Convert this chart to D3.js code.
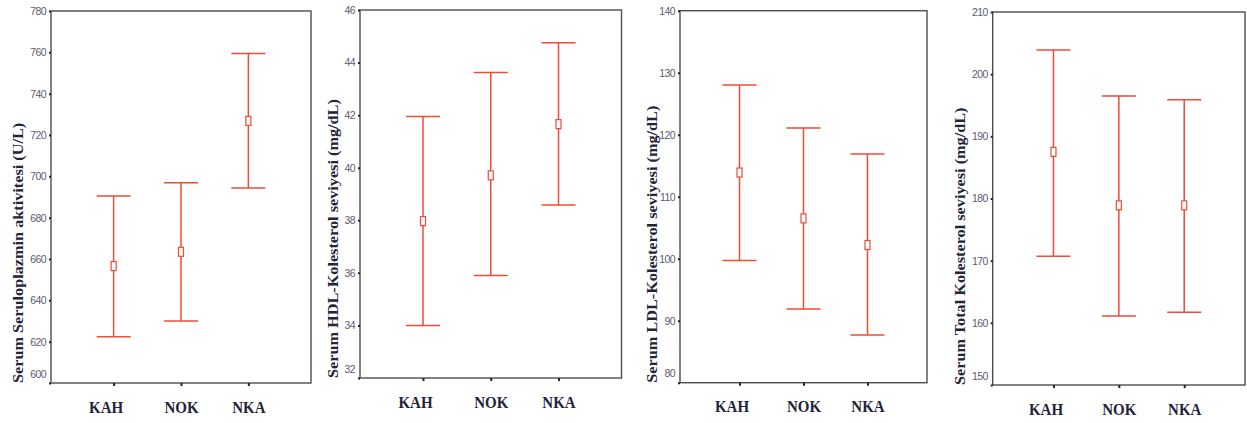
<!DOCTYPE html>
<html>
<head>
<meta charset="utf-8">
<script src="https://cdn.jsdelivr.net/npm/d3@7"></script>
<style>
  html, body { margin: 0; padding: 0; background: #fff; }
  svg { display: block; }
</style>
</head>
<body>
<svg id="chart" width="1247" height="423"></svg>
<script>
// ---- data ----
const categories = ["KAH", "NOK", "NKA"];

const seruloMean = [656.6, 663.5, 726.8];
const seruloLow  = [622.4, 630.0, 694.3];
const seruloHigh = [690.5, 696.9, 759.4];
const seruloTicks = [600, 620, 640, 660, 680, 700, 720, 740, 760, 780];
const seruloTitle = "Serum Seruloplazmin aktivitesi (U/L)";

const hdlMean = [37.97, 39.71, 41.66];
const hdlLow  = [34.0, 35.9, 38.58];
const hdlHigh = [41.95, 43.62, 44.75];
const hdlTicks = [32, 34, 36, 38, 40, 42, 44, 46];
const hdlTitle = "Serum HDL-Kolesterol seviyesi (mg/dL)";

const ldlMean = [113.9, 106.5, 102.2];
const ldlLow  = [99.7, 91.9, 87.7];
const ldlHigh = [128.0, 121.1, 116.9];
const ldlTicks = [80, 90, 100, 110, 120, 130, 140];
const ldlTitle = "Serum LDL-Kolesterol seviyesi (mg/dL)";

const totalMean = [187.5, 178.9, 178.9];
const totalLow  = [170.7, 161.1, 161.7];
const totalHigh = [203.9, 196.5, 195.9];
const totalTicks = [150, 160, 170, 180, 190, 200, 210];
const totalTitle = "Serum Total Kolesterol seviyesi (mg/dL)";

// ---- layout (positions / styles only) ----
const panels = [
  { mean: seruloMean, low: seruloLow, high: seruloHigh, ticks: seruloTicks, title: seruloTitle,
    left: 51, right: 311, top: 11, bottom: 383, titleOff: 33 },
  { mean: hdlMean, low: hdlLow, high: hdlHigh, ticks: hdlTicks, title: hdlTitle,
    left: 360, right: 621.5, top: 10, bottom: 378, titleOff: 27 },
  { mean: ldlMean, low: ldlLow, high: ldlHigh, ticks: ldlTicks, title: ldlTitle,
    left: 680, right: 927, top: 10.7, bottom: 382.7, titleOff: 28 },
  { mean: totalMean, low: totalLow, high: totalHigh, ticks: totalTicks, title: totalTitle,
    left: 992.7, right: 1245, top: 12, bottom: 385, titleOff: 32.5 }
];

const RED = "#ef4b37";
const svg = d3.select("#chart");

panels.forEach(p => {
  const x = d3.scalePoint().domain(categories).range([p.left, p.right]).padding(0.93);
  const y = d3.scaleLinear().domain(d3.extent(p.ticks)).range([p.bottom, p.top]);
  const g = svg.append("g");

  // frame
  g.append("rect")
    .attr("x", p.left).attr("y", p.top)
    .attr("width", p.right - p.left).attr("height", p.bottom - p.top)
    .attr("fill", "none").attr("stroke", "#4d4d4d").attr("stroke-width", 1.4);

  // y axis
  const ya = g.append("g").attr("transform", `translate(${p.left},0)`)
    .call(d3.axisLeft(y).tickValues(p.ticks).tickSize(2).tickPadding(3));
  ya.select(".domain").remove();
  ya.selectAll(".tick line").attr("stroke", "#222").attr("stroke-width", 2);
  ya.selectAll(".tick text")
    .attr("font-family", "'Liberation Sans', Arial, sans-serif")
    .attr("font-size", 10.5)
    .attr("letter-spacing", -0.6)
    .attr("fill", "#5b5b70")
    .attr("dy", (d, i) => i === 0 ? "-0.55em" : "0.32em");

  // x axis
  const xa = g.append("g").attr("transform", `translate(0,${p.bottom})`)
    .call(d3.axisBottom(x).tickSize(3).tickPadding(0));
  xa.select(".domain").remove();
  xa.selectAll(".tick line").attr("stroke", "#222").attr("stroke-width", 2);
  xa.selectAll(".tick text")
    .attr("y", 0).attr("dy", 0)
    .attr("transform", (d, i) => `translate(${i === 0 ? -8 : 0},29.5) scale(1,1.18)`)
    .attr("font-family", "'Liberation Serif', 'Times New Roman', serif")
    .attr("font-weight", "bold")
    .attr("font-size", 15)
    .attr("fill", "#23233a");

  // y title
  g.append("text")
    .attr("transform", `translate(${p.left - p.titleOff},${p.bottom}) rotate(-90) scale(1.16,1)`)
    .attr("text-anchor", "start")
    .attr("dy", "0.35em")
    .attr("font-family", "'Liberation Serif', 'Times New Roman', serif")
    .attr("font-weight", "bold")
    .attr("font-size", 14)
    .attr("fill", "#23233a")
    .text(p.title);

  // error bars
  const cap = 17;
  categories.forEach((c, i) => {
    const cx = x(c);
    g.append("line").attr("x1", cx).attr("x2", cx)
      .attr("y1", y(p.low[i])).attr("y2", y(p.high[i]))
      .attr("stroke", RED).attr("stroke-width", 1.5);
    g.append("line").attr("x1", cx - cap).attr("x2", cx + cap)
      .attr("y1", y(p.high[i])).attr("y2", y(p.high[i]))
      .attr("stroke", RED).attr("stroke-width", 1.5);
    g.append("line").attr("x1", cx - cap).attr("x2", cx + cap)
      .attr("y1", y(p.low[i])).attr("y2", y(p.low[i]))
      .attr("stroke", RED).attr("stroke-width", 1.5);
    g.append("rect")
      .attr("x", cx - 2.5).attr("y", y(p.mean[i]) - 4.5)
      .attr("width", 5).attr("height", 9)
      .attr("fill", "#fff").attr("stroke", RED).attr("stroke-width", 1.2);
  });
});
</script>
</body>
</html>
